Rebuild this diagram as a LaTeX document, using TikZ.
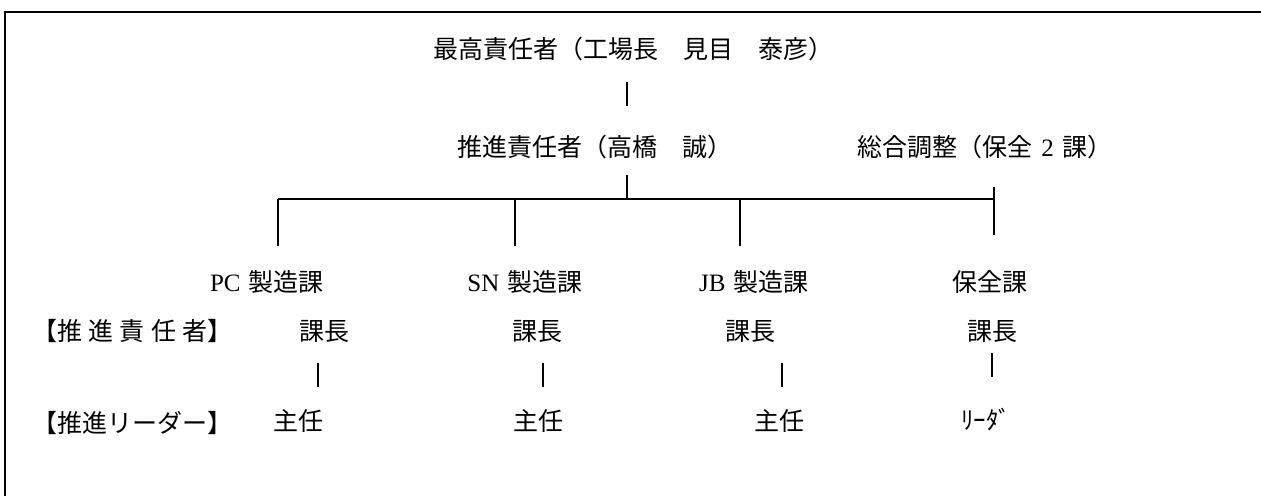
\documentclass[tikz,border=0pt]{standalone}
\usepackage{fontspec}
\setmainfont{Liberation Serif}
\newfontfamily\jp{Noto Sans CJK JP}
\usetikzlibrary{positioning}

\begin{document}
\begin{tikzpicture}[
      x=0.5pt, y=-0.5pt,
      nodes={
        inner sep=0pt, font=\fontsize{12.5pt}{14pt}\selectfont,
        text height=10.4pt, text depth=0.9pt
      },
      link/.style={line width=0.9pt},
      frame/.style={line width=1.1pt}
      ]
  \useasboundingbox (0,0) rectangle (1261,496);

  % frame
  \draw[frame] (5,496) -- (5,12) -- (1261,12);

  \node (top) at (633,49)  {\jp 最高責任者（工場長　見目　泰彦）};
  \node (mgr) at (595,147) {\jp 推進責任者（高橋　誠）};
  \node (adj) at (985,147) {{\jp 総合調整（保全}\,\,2\,\,{\jp 課）}};

  \node (pc) at (267,282) {PC\,\,{\jp 製造課}};
  \node (sn) at (525,282) {SN\,\,{\jp 製造課}};
  \node (jb) at (754,282) {JB\,\,{\jp 製造課}};
  \node (hz) at (990,282) {\jp 保全課};

  \node[anchor=west] (rowA) at (32,331)
    {\jp\makebox[8em][l]{【推\hfill 進\hfill 責\hfill 任\hfill 者】}};
  \node[anchor=west] (rowB) at (32,423) {\jp 【推進リーダー】};

  \node (k1) at (324,331) {\jp 課長};
  \node (k2) at (537,331) {\jp 課長};
  \node (k3) at (750,331) {\jp 課長};
  \node (k4) at (992,331) {\jp 課長};

  \node (s1) at (298,421) {\jp 主任};
  \node (s2) at (538,421) {\jp 主任};
  \node (s3) at (779,421) {\jp 主任};
  \node (s4) at (986,420) {\jp ﾘｰﾀﾞ};

  \coordinate (hub) at (627,199);
  \coordinate (b1)  at (278,199);
  \coordinate (b2)  at (515,199);
  \coordinate (b3)  at (740,199);
  \coordinate (bR)  at (994,199);
  \coordinate (v1)  at (318,0);
  \coordinate (v2)  at (543,0);
  \coordinate (v3)  at (782,0);
  \coordinate (v4)  at (992,0);

  % Connect the nodes
  \draw[link, shorten <=10.9pt, shorten >=14.4pt] (hub |- top.south) -- (hub |- mgr.north);
  \draw[link, shorten <=8.4pt] (hub |- mgr.south) -- (hub);
  \draw[link] (b1) -- (bR);
  \foreach \b/\d in {b1/pc, b2/sn, b3/jb}
    \draw[link, shorten >=11.9pt] (\b) -- (\b |- \d.north);
  \draw[link, shorten <=14.4pt, shorten >=17.4pt] (bR |- adj.south) -- (bR |- hz.north);

  \foreach \v/\k/\s in {v1/k1/s1, v2/k2/s2, v3/k3/s3}
    \draw[link, shorten <=9.9pt, shorten >=11.4pt] (\v |- \k.south) -- (\v |- \s.north);
  \draw[link, shorten <=4.9pt, shorten >=15.9pt] (v4 |- k4.south) -- (v4 |- s4.north);

\end{tikzpicture}
\end{document}
